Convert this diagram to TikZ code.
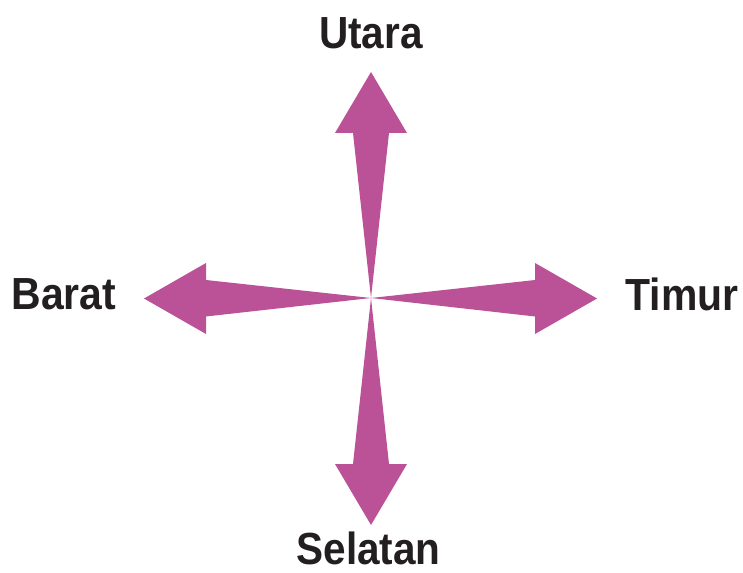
\documentclass[tikz,border=0pt]{standalone}
\usepackage{fontspec}
\setmainfont{Liberation Sans}
\definecolor{arrowpink}{RGB}{187,82,151}
\definecolor{labelink}{RGB}{35,31,32}
\begin{document}
\begin{tikzpicture}[x=1pt,y=-1pt,
  dirarrow/.style={fill=arrowpink,draw=none},
  dirlabel/.style={inner sep=0pt,text=labelink,font=\fontsize{45}{50}\selectfont\bfseries}]
\useasboundingbox (0,0) rectangle (743,572);
\coordinate (c) at (371,298);
% North
\fill[dirarrow] (c) -- (353,133) -- (335,133) -- (371,72) -- (407,133) -- (389,133) -- cycle;
% South
\fill[dirarrow] (c) -- (353,464) -- (335,464) -- (371,525) -- (407,464) -- (389,464) -- cycle;
% West
\fill[dirarrow] (c) -- (206,280) -- (206,263) -- (144,298.5) -- (206,334) -- (206,316.5) -- cycle;
% East
\fill[dirarrow] (c) -- (535,280) -- (535,263) -- (597,298.5) -- (535,334) -- (535,316.5) -- cycle;
\node[dirlabel,anchor=base] (utara) at (371,49) {\scalebox{0.9}[1]{Utara}};
\node[dirlabel,anchor=base] (selatan) at (368.5,564) {\scalebox{0.9}[1]{Selatan}};
\node[dirlabel,anchor=base] (barat) at (64,309) {\scalebox{0.91}[1]{Barat}};
\node[dirlabel,anchor=base] (timur) at (682,310) {\scalebox{0.91}[1]{Timur}};
\end{tikzpicture}
\end{document}
